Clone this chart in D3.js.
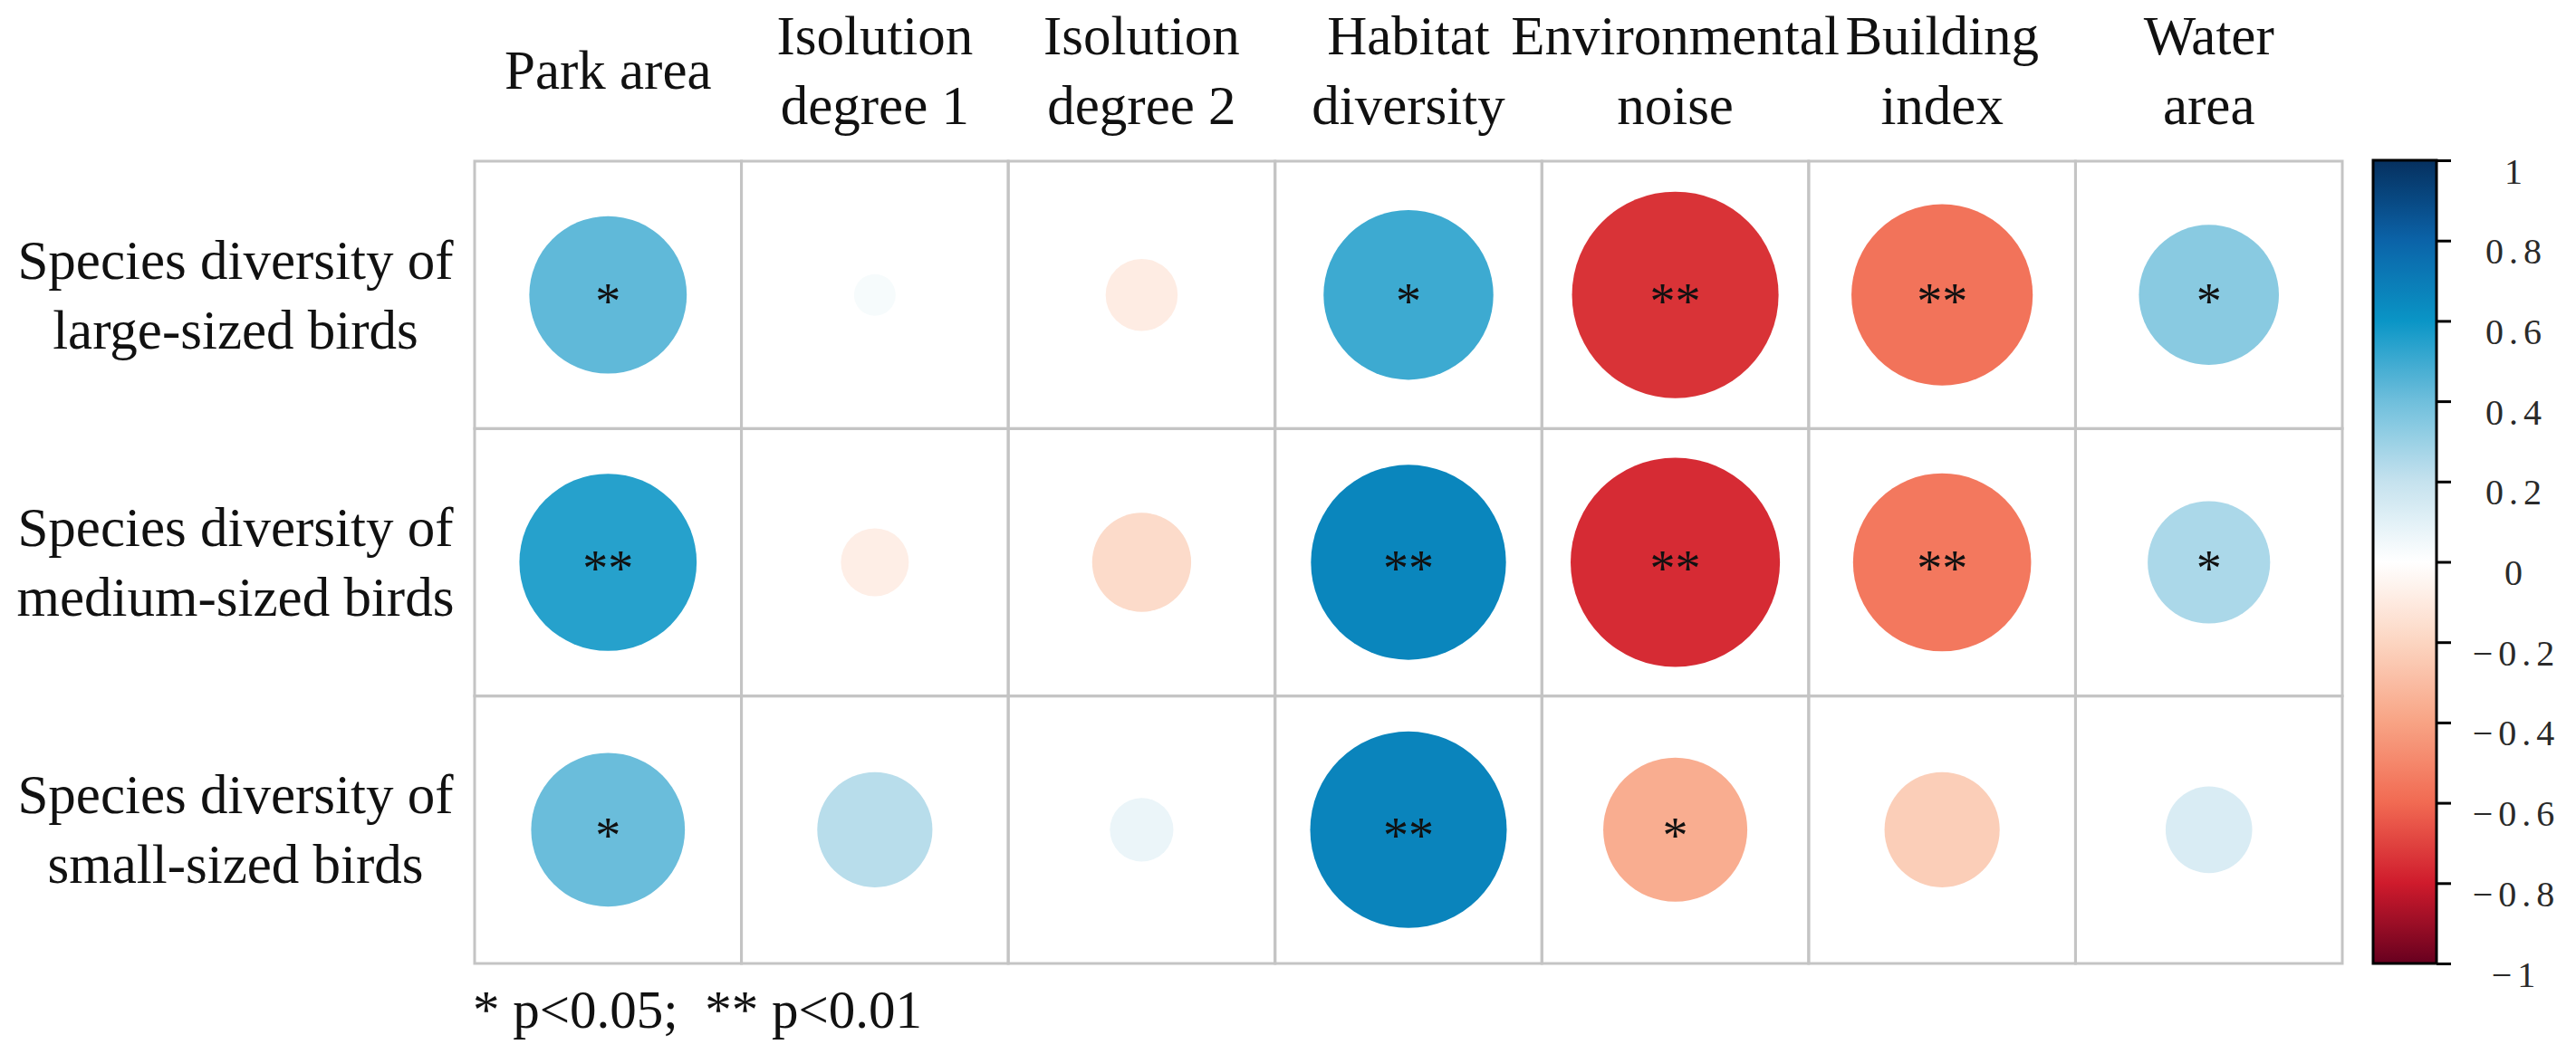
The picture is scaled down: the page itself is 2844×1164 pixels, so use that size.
<!DOCTYPE html>
<html>
<head>
<meta charset="utf-8">
<script src="https://cdn.jsdelivr.net/npm/d3@7"></script>
<style>
  body { margin: 0; background: #ffffff; }
  text { font-family: "Liberation Serif", "Times New Roman", serif; }
</style>
</head>
<body>
<div id="vis-container"></div>
<script>
// factors (columns) and bird groups (rows)
var columns = ["Park area", "Isolution degree 1", "Isolution degree 2", "Habitat diversity",
               "Environmental noise", "Building index", "Water area"];
var columnLines = [["Park area"], ["Isolution", "degree 1"], ["Isolution", "degree 2"],
                   ["Habitat", "diversity"], ["Environmental", "noise"], ["Building", "index"], ["Water", "area"]];
var rows = ["large", "medium", "small"];
var rowLines = [["Species diversity of", "large-sized birds"],
                ["Species diversity of", "medium-sized birds"],
                ["Species diversity of", "small-sized birds"]];

// correlation coefficients
var largeBirds  = [0.43, 0.03, -0.09, 0.50, -0.74, -0.57, 0.34];
var mediumBirds = [0.545, -0.08, -0.17, 0.66, -0.76, -0.55, 0.26];
var smallBirds  = [0.41, 0.23, 0.07, 0.67, -0.36, -0.23, 0.13];

// significance marks
var largeSig  = ["*", "", "", "*", "**", "**", "*"];
var mediumSig = ["**", "", "", "**", "**", "**", "*"];
var smallSig  = ["*", "", "", "**", "*", "", ""];

var colorbarTicks = [1, 0.8, 0.6, 0.4, 0.2, 0, -0.2, -0.4, -0.6, -0.8, -1];
var footnote = "* p<0.05;  ** p<0.01";

var rowValues = [largeBirds, mediumBirds, smallBirds];
var rowSig = [largeSig, mediumSig, smallSig];

var cells = [];
rows.forEach(function(r, i) {
    columns.forEach(function(c, j) {
        cells.push({ row: r, col: c, value: rowValues[i][j], sig: rowSig[i][j] });
    });
});

var width = 2844, height = 1164;

var svg = d3.select("#vis-container")
  .append("svg")
    .attr("width", width)
    .attr("height", height);

// scales
var xScale = d3.scaleBand().domain(columns).range([524, 2586]);
var yScale = d3.scaleBand().domain(rows).range([178, 1064]);
var cell = Math.min(xScale.bandwidth(), yScale.bandwidth());
var rScale = d3.scaleSqrt().domain([0, 1]).range([0, 0.45 * cell]);

var colorScale = d3.scaleLinear()
    .domain([-1, -0.8, -0.6, -0.4, -0.2, 0, 0.2, 0.4, 0.6, 0.8, 1])
    .range(["#67001f", "#cf1b2c", "#f16a52", "#f8a384", "#fcd5c1", "#ffffff",
            "#c5e2ee", "#6fbfdc", "#0a95c6", "#0b63a8", "#06305f"])
    .interpolate(d3.interpolateRgb);

// grid cells
svg.append("g")
  .selectAll("rect")
  .data(cells)
  .enter().append("rect")
    .attr("x", function(d) { return xScale(d.col); })
    .attr("y", function(d) { return yScale(d.row); })
    .attr("width", xScale.bandwidth())
    .attr("height", yScale.bandwidth())
    .attr("fill", "none")
    .attr("stroke", "#c4c4c4")
    .attr("stroke-width", 3);

// circles
svg.append("g")
  .selectAll("circle")
  .data(cells)
  .enter().append("circle")
    .attr("cx", function(d) { return xScale(d.col) + xScale.bandwidth() / 2; })
    .attr("cy", function(d) { return yScale(d.row) + yScale.bandwidth() / 2; })
    .attr("r", function(d) { return rScale(Math.abs(d.value)); })
    .attr("fill", function(d) { return colorScale(d.value); });

// significance stars
svg.append("g")
  .selectAll("text")
  .data(cells.filter(function(d) { return d.sig !== ""; }))
  .enter().append("text")
    .attr("x", function(d) { return xScale(d.col) + xScale.bandwidth() / 2; })
    .attr("y", function(d) { return yScale(d.row) + yScale.bandwidth() / 2 + 26; })
    .attr("text-anchor", "middle")
    .style("font-size", "56px")
    .attr("fill", "#111")
    .text(function(d) { return d.sig; });

// column labels
var colLabels = svg.append("g")
  .selectAll("text")
  .data(columns)
  .enter().append("text")
    .attr("text-anchor", "middle")
    .style("font-size", "61px")
    .attr("fill", "#111");
colLabels.each(function(c, j) {
    var lines = columnLines[j];
    var cx = xScale(c) + xScale.bandwidth() / 2;
    d3.select(this).selectAll("tspan")
      .data(lines)
      .enter().append("tspan")
        .attr("x", cx)
        .attr("y", function(l, k) { return 98 + (k - (lines.length - 1) / 2) * 77; })
        .text(function(l) { return l; });
});

// row labels
var rowLabelG = svg.append("g")
  .selectAll("text")
  .data(rows)
  .enter().append("text")
    .attr("text-anchor", "middle")
    .style("font-size", "61px")
    .attr("fill", "#111");
rowLabelG.each(function(r, i) {
    var cy = yScale(r) + yScale.bandwidth() / 2;
    d3.select(this).selectAll("tspan")
      .data(rowLines[i])
      .enter().append("tspan")
        .attr("x", 260)
        .attr("y", function(l, k) { return cy - 18 + k * 77; })
        .text(function(l) { return l; });
});

// colorbar
var cbX = 2620, cbW = 70;
var cbScale = d3.scaleLinear().domain([-1, 1]).range([1064, 177]);

var grad = svg.append("defs").append("linearGradient")
    .attr("id", "cbGrad")
    .attr("x1", "0").attr("y1", "1")
    .attr("x2", "0").attr("y2", "0");
grad.selectAll("stop")
  .data(d3.range(0, 41).map(function(i) { return -1 + i * 0.05; }))
  .enter().append("stop")
    .attr("offset", function(d) { return ((d + 1) / 2 * 100) + "%"; })
    .attr("stop-color", function(d) { return colorScale(d); });

svg.append("rect")
    .attr("x", cbX)
    .attr("y", cbScale(1))
    .attr("width", cbW)
    .attr("height", cbScale(-1) - cbScale(1))
    .attr("fill", "url(#cbGrad)")
    .attr("stroke", "#000")
    .attr("stroke-width", 3);

var cbAxis = d3.axisRight(cbScale)
    .tickValues(colorbarTicks)
    .tickSize(16)
    .tickFormat(d3.format(""));

var cbG = svg.append("g")
    .attr("transform", "translate(" + (cbX + cbW) + ",0)")
    .call(cbAxis);
cbG.select(".domain").remove();
cbG.selectAll(".tick line")
    .attr("stroke", "#000")
    .attr("stroke-width", 3);
cbG.selectAll(".tick text")
    .attr("x", 88)
    .attr("dy", 0)
    .attr("y", 25)
    .attr("text-anchor", "middle")
    .style("font-family", "'Liberation Serif', serif")
    .style("font-size", "40px")
    .style("letter-spacing", "6px")
    .attr("fill", "#2a2a2a");

// footnote
svg.append("text")
    .attr("x", 522)
    .attr("y", 1135)
    .style("font-size", "59px")
    .style("white-space", "pre")
    .attr("fill", "#111")
    .text(footnote);
</script>
</body>
</html>
